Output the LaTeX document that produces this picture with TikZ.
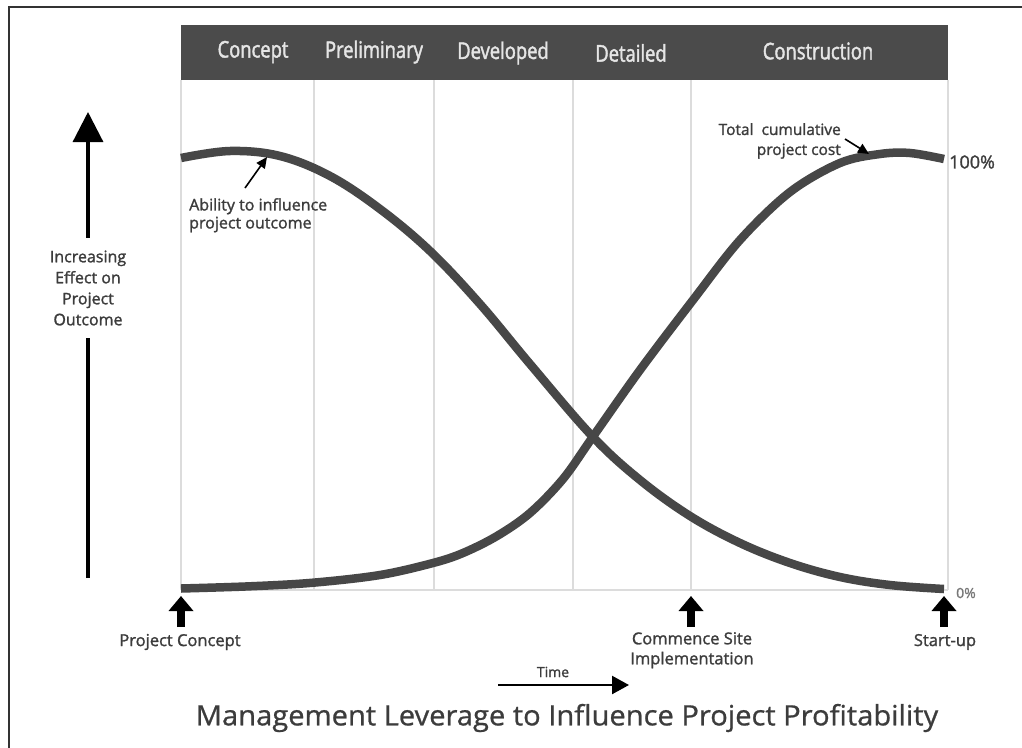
\documentclass[tikz,border=0pt]{standalone}
\usepackage{fontspec}
\setmainfont{Open Sans}[FakeBold=1.4]
\newfontfamily\condfont{Open Sans}[FakeStretch=0.8,FakeBold=1.8]
\newfontfamily\titlefont{Open Sans}[FakeStretch=1.04,FakeBold=0.8]
\usetikzlibrary{arrows.meta}
\definecolor{curvecol}{HTML}{474747}
\definecolor{barcol}{HTML}{4B4B4B}
\definecolor{gridcol}{HTML}{DCDCDC}
\definecolor{txtcol}{HTML}{3C3C3C}
\begin{document}
\begin{tikzpicture}[x=1pt,y=-1pt,
  phase/.style={text=white!90!black,font=\condfont\fontsize{23}{25}\selectfont,anchor=center},
  lbl/.style={text=txtcol,font=\fontsize{16.5}{20}\selectfont,align=center,inner sep=1pt},
  gridline/.style={gridcol,line width=1.3pt},
  curve/.style={curvecol,line width=8.5pt},
  marker/.style={black,line width=7.5pt,-{Triangle[length=15pt,width=24pt]}},
  pointer/.style={black,line width=1.6pt,-{Triangle[length=11pt,width=10pt]}}]
\useasboundingbox (0,0) rectangle (1022,747);
\fill[white] (0,0) rectangle (1022,747);
% frame
\draw[black!80,line width=2.5pt] (1030,7) -- (9,7) -- (9,760);
% header
\fill[barcol] (181,25) rectangle (948,80);
\node[phase] (hconcept) at (253,52) {Concept};
\node[phase] (hprelim) at (374,52) {Preliminary};
\node[phase] (hdev) at (503,53) {Developed};
\node[phase] (hdet) at (631,53) {Detailed};
\node[phase] (hcons) at (818,51) {Construction};
% grid
\foreach \x in {181,314,434,573,691,948} \draw[gridline] (\x,80) -- (\x,590);
\draw[gridline] (181,590) -- (948,590);
% curves
\draw[curve] plot[smooth,tension=0.6] coordinates {(181,158) (230,151) (280,156) (330,176) (380,209) (430,251) (480,304) (530,364) (592,436) (640,480) (690,516) (740,543) (790,563) (840,577) (890,585) (944,589)};
\draw[curve] plot[smooth,tension=0.55] coordinates {(181,588.5) (250,586.3) (313,582.7) (380,575) (433,563) (463,553) (497,536) (530,513) (563,479) (592,438) (640,370) (693,300) (740,240) (790,192) (840,163) (880,154) (910,153) (944,159)};
% y-axis
\node[lbl,font=\fontsize{16}{21}\selectfont,fill=white,inner sep=0pt,minimum height=100pt] (yaxis) at (88,288) {Increasing\\Effect on\\Project\\Outcome};
\coordinate (ybot) at (88,578);
\coordinate (ytop) at (88,112);
\draw[black,line width=3.2pt] (ybot) -- (yaxis.south);
\draw[black,line width=3.2pt,-{Triangle[length=30pt,width=30pt]}] (yaxis.north) -- (ytop);
% curve labels
\node[lbl,font=\fontsize{16}{18}\selectfont,align=left,anchor=north west] (ability) at (188,197) {Ability to influence\\project outcome};
\coordinate (abtip) at (267,157);
\draw[pointer] (245,188) -- (abtip);
\node[lbl,font=\fontsize{15.5}{20}\selectfont,align=right,anchor=north east] (total) at (842,122) {Total \ cumulative\\project cost};
\coordinate (tottip) at (869,154);
\draw[pointer] (845,139) -- (tottip);
\node[lbl,font=\fontsize{18}{20}\selectfont,anchor=west] (p100) at (948,162) {100\%};
\node[lbl,anchor=west,font=\fontsize{14}{16}\selectfont,text=txtcol!70] (p0) at (955,593) {0\%};
% bottom markers
\coordinate (m1b) at (181,627); \coordinate (m1t) at (181,596);
\coordinate (m2b) at (691,627); \coordinate (m2t) at (691,596);
\coordinate (m3b) at (944,627); \coordinate (m3t) at (944,596);
\draw[marker] (m1b) -- (m1t);
\draw[marker] (m2b) -- (m2t);
\draw[marker] (m3b) -- (m3t);
\node[lbl] (pconcept) at (180,642) {Project Concept};
\node[lbl,anchor=north] (commence) at (692,631) {Commence Site\\Implementation};
\node[lbl] (startup) at (945,642) {Start-up};
% time
\node[lbl,font=\fontsize{14}{16}\selectfont] (time) at (553,672) {Time};
\coordinate (t0) at (498,685); \coordinate (t1) at (629,685);
\draw[black,line width=2.4pt,-{Triangle[length=17pt,width=18pt]}] (t0) -- (t1);
% title
\node[text=txtcol,font=\titlefont\fontsize{28}{30}\selectfont] (title) at (567,718) {Management Leverage to Influence Project Profitability};
\end{tikzpicture}
\end{document}
